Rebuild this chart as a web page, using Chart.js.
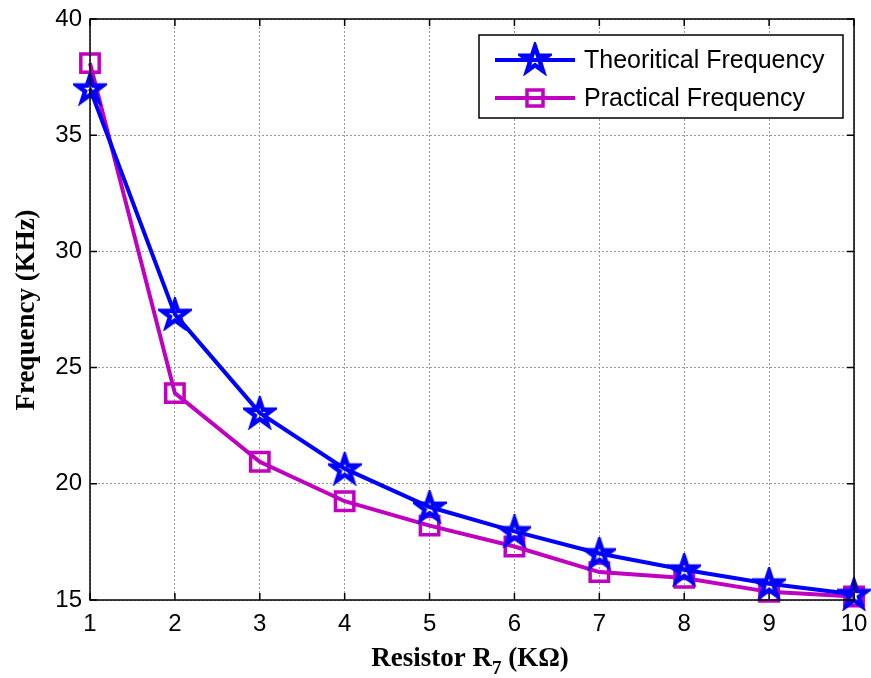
<!DOCTYPE html>
<html lang="en">
<head>
<meta charset="UTF-8">
<title>Frequency vs Resistor R7</title>
<script src="https://cdn.jsdelivr.net/npm/chart.js"></script>
<style>
  html, body { margin: 0; padding: 0; background: #fff; }
  #wrap { width: 871px; height: 678px; }
</style>
</head>
<body>
<div id="wrap"><canvas id="myChart" width="871" height="678"></canvas></div>
<script>
// resistor values (KOhm) and measured / computed frequencies (KHz)
const resistor = [1, 2, 3, 4, 5, 6, 7, 8, 9, 10];
const theoritical = [37.0, 27.3, 23.05, 20.65, 19.0, 17.95, 17.0, 16.3, 15.7, 15.25];
const practical = [38.1, 23.9, 20.95, 19.25, 18.2, 17.3, 16.2, 15.95, 15.35, 15.15];
const yTicks = [15, 20, 25, 30, 35, 40];

const BLUE = '#0000ff';
const MAGENTA = '#c000c0';

// pentagram marker, outlined like the matlab 'p' marker
function makeStar(color) {
  const c = document.createElement('canvas');
  const s = 34;
  c.width = s; c.height = s;
  const g = c.getContext('2d');
  const cx = s / 2, cy = s / 2 + 1, R = 13.5, r = 5.2;
  g.beginPath();
  for (let i = 0; i < 10; i++) {
    const rad = i % 2 === 0 ? R : r;
    const a = -Math.PI / 2 + i * Math.PI / 5;
    const px = cx + rad * Math.cos(a), py = cy + rad * Math.sin(a);
    if (i === 0) g.moveTo(px, py); else g.lineTo(px, py);
  }
  g.closePath();
  g.lineWidth = 4.5;
  g.lineJoin = 'miter';
  g.strokeStyle = color;
  g.stroke();
  return c;
}
const starImg = makeStar(BLUE);

function toPoints(ys) {
  return resistor.map((x, i) => ({ x: x, y: ys[i] }));
}

// axis box, inward ticks, axis titles and legend
const decorations = {
  id: 'decorations',
  afterDatasetsDraw(chart) {
    const ctx = chart.ctx;
    const a = chart.chartArea;
    const xs = chart.scales.x, ys = chart.scales.y;
    ctx.save();

    // box
    ctx.strokeStyle = '#000';
    ctx.lineWidth = 1.5;
    ctx.strokeRect(a.left, a.top, a.right - a.left, a.bottom - a.top);

    // inward tick marks
    ctx.beginPath();
    resistor.forEach(v => {
      const px = xs.getPixelForValue(v);
      ctx.moveTo(px, a.bottom); ctx.lineTo(px, a.bottom - 7);
      ctx.moveTo(px, a.top); ctx.lineTo(px, a.top + 7);
    });
    yTicks.forEach(v => {
      const py = ys.getPixelForValue(v);
      ctx.moveTo(a.left, py); ctx.lineTo(a.left + 7, py);
      ctx.moveTo(a.right, py); ctx.lineTo(a.right - 7, py);
    });
    ctx.stroke();

    // x axis title with subscript
    ctx.fillStyle = '#000';
    ctx.textBaseline = 'alphabetic';
    const big = 'bold 27px "Liberation Serif", "Times New Roman", serif';
    const small = 'bold 19px "Liberation Serif", "Times New Roman", serif';
    const p1 = 'Resistor R', p2 = '7', p3 = ' (K\u03A9)';
    ctx.font = big; const w1 = ctx.measureText(p1).width; const w3 = ctx.measureText(p3).width;
    ctx.font = small; const w2 = ctx.measureText(p2).width;
    const x0 = 470 - (w1 + w2 + w3) / 2;
    const base = 666;
    ctx.font = big; ctx.textAlign = 'left';
    ctx.fillText(p1, x0, base);
    ctx.font = small;
    ctx.fillText(p2, x0 + w1, base + 8);
    ctx.font = big;
    ctx.fillText(p3, x0 + w1 + w2, base);

    // y axis title
    ctx.save();
    ctx.translate(34, 310);
    ctx.rotate(-Math.PI / 2);
    ctx.textAlign = 'center';
    ctx.font = big;
    ctx.fillText('Frequency (KHz)', 0, 0);
    ctx.restore();

    // legend
    const lx = 479, ly = 35, lw = 364, lh = 83;
    ctx.fillStyle = '#fff';
    ctx.fillRect(lx, ly, lw, lh);
    ctx.strokeStyle = '#000';
    ctx.lineWidth = 1.5;
    ctx.strokeRect(lx, ly, lw, lh);
    const rows = [
      { label: 'Theoritical Frequency', color: BLUE, y: 60, star: true },
      { label: 'Practical Frequency', color: MAGENTA, y: 98, star: false }
    ];
    rows.forEach(r => {
      ctx.strokeStyle = r.color;
      ctx.lineWidth = 4;
      ctx.beginPath();
      ctx.moveTo(495, r.y); ctx.lineTo(575, r.y);
      ctx.stroke();
      if (r.star) {
        ctx.drawImage(starImg, 535 - 17, r.y - 18);
      } else {
        ctx.lineWidth = 3.5;
        ctx.strokeRect(527, r.y - 8, 16, 16);
      }
      ctx.fillStyle = '#000';
      ctx.font = '25px "Liberation Sans", Arial, sans-serif';
      ctx.textAlign = 'left';
      ctx.textBaseline = 'middle';
      ctx.fillText(r.label, 584, r.y + 1);
    });
    ctx.restore();
  }
};

const tickFont = { family: '"Liberation Sans", Arial, sans-serif', size: 24 };
const gridStyle = {
  color: '#999',
  lineWidth: 1,
  drawTicks: false
};

new Chart(document.getElementById('myChart'), {
  type: 'line',
  data: {
    datasets: [
      {
        label: 'Theoritical Frequency',
        data: toPoints(theoritical),
        borderColor: BLUE,
        backgroundColor: BLUE,
        borderWidth: 4,
        pointStyle: starImg,
        pointRadius: 13,
        tension: 0,
        clip: false
      },
      {
        label: 'Practical Frequency',
        data: toPoints(practical),
        borderColor: MAGENTA,
        backgroundColor: 'rgba(0,0,0,0)',
        borderWidth: 4,
        pointStyle: 'rect',
        pointRadius: 13,
        pointBorderWidth: 3.5,
        tension: 0,
        clip: false
      }
    ]
  },
  options: {
    responsive: false,
    animation: false,
    layout: { autoPadding: false, padding: { top: 19, right: 17, left: 0, bottom: 0 } },
    plugins: { legend: { display: false }, tooltip: { enabled: false } },
    scales: {
      x: {
        type: 'linear',
        min: 1,
        max: 10,
        grid: gridStyle,
        border: { display: false, dash: [2, 2] },
        ticks: { stepSize: 1, color: '#000', font: tickFont, padding: 10, maxRotation: 0 },
        afterFit(scale) { scale.height = 78; scale.paddingLeft = 0; scale.paddingRight = 0; }
      },
      y: {
        min: 15,
        max: 40,
        grid: gridStyle,
        border: { display: false, dash: [2, 2] },
        ticks: { stepSize: 5, color: '#000', font: tickFont, padding: 8 },
        afterFit(scale) { scale.width = 90; scale.paddingTop = 0; scale.paddingBottom = 0; }
      }
    }
  },
  plugins: [decorations]
});
</script>
</body>
</html>
